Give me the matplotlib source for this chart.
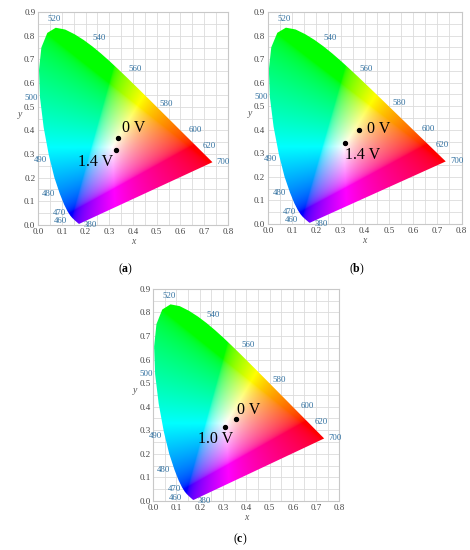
import matplotlib
matplotlib.use("Agg")
import matplotlib.pyplot as plt
import numpy as np
from matplotlib.path import Path
from matplotlib.patches import PathPatch

plt.rcParams['font.family'] = ['Liberation Serif', 'DejaVu Serif']
plt.rcParams['mathtext.fontset'] = 'custom'
plt.rcParams['mathtext.bf'] = 'Liberation Serif:bold'
plt.rcParams['mathtext.rm'] = 'Liberation Serif'

# CIE 1931 2deg spectral locus (nm, x, y)
wl = [380, 400, 410, 420, 430, 440, 450, 460, 465, 470, 475, 480, 485, 490, 495,
      500, 505, 510, 515, 520, 525, 530, 535, 540, 545, 550, 555, 560, 565, 570,
      575, 580, 585, 590, 595, 600, 605, 610, 615, 620, 625, 630, 640, 650, 660,
      680, 700]
lx = [0.1741, 0.1733, 0.1726, 0.1714, 0.1689, 0.1644, 0.1566, 0.1440, 0.1355, 0.1241,
      0.1096, 0.0913, 0.0687, 0.0454, 0.0235, 0.0082, 0.0039, 0.0139, 0.0389, 0.0743,
      0.1142, 0.1547, 0.1929, 0.2296, 0.2658, 0.3016, 0.3373, 0.3731, 0.4087, 0.4441,
      0.4788, 0.5125, 0.5448, 0.5752, 0.6029, 0.6270, 0.6482, 0.6658, 0.6801, 0.6915,
      0.7006, 0.7079, 0.7190, 0.7260, 0.7300, 0.7334, 0.7347]
ly = [0.0050, 0.0048, 0.0048, 0.0051, 0.0069, 0.0109, 0.0177, 0.0297, 0.0399, 0.0578,
      0.0868, 0.1327, 0.2007, 0.2950, 0.4127, 0.5384, 0.6548, 0.7502, 0.8120, 0.8338,
      0.8262, 0.8059, 0.7816, 0.7543, 0.7243, 0.6923, 0.6589, 0.6245, 0.5896, 0.5547,
      0.5202, 0.4866, 0.4544, 0.4242, 0.3965, 0.3725, 0.3514, 0.3340, 0.3197, 0.3083,
      0.2993, 0.2920, 0.2809, 0.2740, 0.2700, 0.2666, 0.2653]

# wavelength labels shown on the locus
lab_wl = [520, 540, 560, 580, 600, 620, 700, 500, 490, 480, 470, 460, 380]

# measured chromaticity points per panel
panels = ['a', 'b', 'c']
pt_x = [[0.338, 0.327], [0.377, 0.318], [0.357, 0.307]]
pt_y = [[0.366, 0.317], [0.401, 0.342], [0.347, 0.313]]
pt_lab = [['0 V', '1.4 V'], ['0 V', '1.4 V'], ['0 V', '1.0 V']]

# layout (figure fractions) and label offsets
rects = [[0.081, 0.591, 0.404, 0.387],
         [0.570, 0.593, 0.412, 0.385],
         [0.326, 0.089, 0.396, 0.386]]
sub_pos = [(0.268, 0.510), (0.760, 0.510), (0.511, 0.019)]
txt_off = [[(0.017, 0.042, 'left'), (-0.01, -0.052, 'right')],
           [(0.032, 0.004, 'left'), (0.0, -0.05, 'left')],
           [(0.003, 0.038, 'left'), (-0.116, -0.048, 'left')]]
wl_off = {520: (-1, 6, 'center'), 540: (5, 6, 'center'), 560: (6, 6, 'center'),
          580: (5, 4.5, 'center'), 600: (6, 5, 'center'), 620: (5, 4.5, 'center'),
          700: (3, 0, 'left'), 500: (-1.5, 0, 'right'), 490: (-1.5, -3.5, 'right'),
          480: (-3, 0, 'right'), 470: (-1, -1.5, 'right'), 460: (-3.5, -2.5, 'right'),
          380: (3, -1, 'left')}


def chroma_image(n=500):
    xs = np.linspace(0, 0.8, n)
    ys = np.linspace(0, 0.9, n)
    X, Y = np.meshgrid(xs, ys)
    Yc = np.maximum(Y, 1e-4)
    Xv = X / Yc
    Zv = (1 - X - Y) / Yc
    M = np.array([[3.2406, -1.5372, -0.4986],
                  [-0.9689, 1.8758, 0.0415],
                  [0.0557, -0.2040, 1.0570]])
    rgb = np.stack([Xv, np.ones_like(Xv), Zv], axis=-1) @ M.T
    rgb = np.clip(rgb, 0, None)
    rgb = rgb / np.maximum(rgb.max(axis=-1, keepdims=True), 1e-9)
    rgb = np.where(rgb <= 0.0031308, 12.92 * rgb, 1.055 * rgb ** (1 / 2.4) - 0.055)
    return np.clip(rgb, 0, 1)


img = chroma_image()
verts = list(zip(lx, ly)) + [(lx[0], ly[0])]
fig = plt.figure(figsize=(4.7, 5.5), dpi=100)
blue = '#2f6f9f'

for k, p in enumerate(panels):
    ax = fig.add_axes(rects[k])
    ax.set_xlim(0, 0.8)
    ax.set_ylim(0, 0.9)
    ax.set_xticks(np.arange(0, 0.81, 0.05), minor=True)
    ax.set_yticks(np.arange(0, 0.91, 0.05), minor=True)
    ax.set_xticks(np.arange(0, 0.81, 0.1))
    ax.set_yticks(np.arange(0, 0.91, 0.1))
    ax.set_xticklabels(['%.1f' % v for v in np.arange(0, 0.81, 0.1)])
    ax.set_yticklabels(['%.1f' % v for v in np.arange(0, 0.91, 0.1)])
    ax.grid(True, which='both', color='#dcdcdc', lw=0.6)
    ax.set_axisbelow(True)
    ax.tick_params(which='both', length=0, labelsize=6.5, labelcolor='#444444', pad=2)
    for s in ax.spines.values():
        s.set_color('#c8c8c8')
        s.set_linewidth(0.8)
    ax.set_xlabel('x', fontsize=7, style='italic', color='#555555', labelpad=1)
    ax.set_ylabel('y', fontsize=7, style='italic', color='#555555', rotation=0, labelpad=3)

    patch = PathPatch(Path(verts), facecolor='none', edgecolor='none')
    ax.add_patch(patch)
    im = ax.imshow(img, extent=[0, 0.8, 0, 0.9], origin='lower', aspect='auto',
                   interpolation='bilinear', zorder=2)
    im.set_clip_path(patch)

    for w in lab_wl:
        i = wl.index(w)
        dx, dy, ha = wl_off[w]
        ax.annotate(str(w), (lx[i], ly[i]), xytext=(dx, dy), textcoords='offset points',
                    ha=ha, va='center', fontsize=6.3, color=blue, annotation_clip=False,
                    zorder=4)

    ax.scatter(pt_x[k], pt_y[k], s=8, color='black', zorder=5)
    for j in range(2):
        ox, oy, ha = txt_off[k][j]
        ax.text(pt_x[k][j] + ox, pt_y[k][j] + oy, pt_lab[k][j], fontsize=11.5,
                ha=ha, va='center', color='black', zorder=6)

    fig.text(sub_pos[k][0], sub_pos[k][1], r'($\mathbf{%s}$)' % p, ha='center',
             va='center', fontsize=8.5)

fig.savefig('out.png', dpi=100)
